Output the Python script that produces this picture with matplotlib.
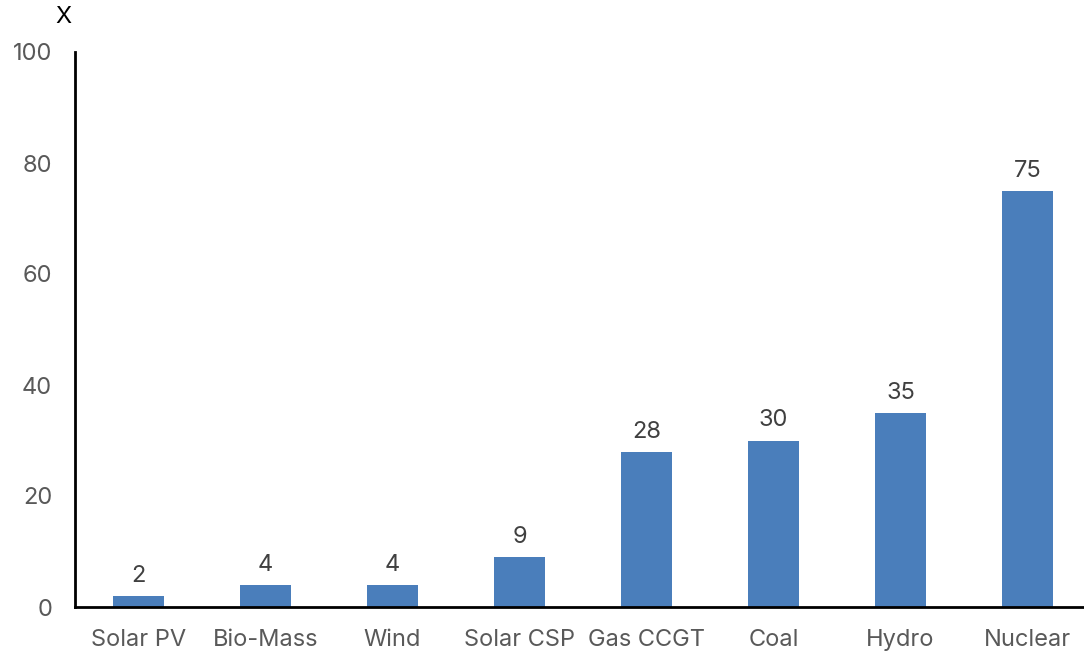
import matplotlib
matplotlib.use("Agg")
import matplotlib.pyplot as plt

categories = ["Solar PV", "Bio-Mass", "Wind", "Solar CSP", "Gas CCGT", "Coal", "Hydro", "Nuclear"]
values = [2, 4, 4, 9, 28, 30, 35, 75]
yticks = [0, 20, 40, 60, 80, 100]

plt.rcParams['font.family'] = ['Inter', 'DejaVu Sans']

W, H = 1084, 653
fig = plt.figure(figsize=(W / 100, H / 100), dpi=100)
ax = fig.add_axes([75 / W, 1 - 607 / H, (1084 - 75) / W, (607 - 52) / H])

x = list(range(len(categories)))
bars = ax.bar(x, values, width=0.4, color="#4a7ebb", zorder=2)
for xi, v in zip(x, values):
    ax.annotate(str(v), (xi, v), xytext=(0, 6.5), textcoords="offset points",
                ha="center", va="bottom", fontsize=17, color="#404040")

ax.set_xlim(-0.5, 7.445)
ax.set_ylim(0, 100)
ax.set_yticks(yticks)
ax.set_xticks(x)
ax.set_xticklabels(categories)
ax.tick_params(axis="both", length=0, labelsize=17, labelcolor="#595959")
ax.tick_params(axis="y", pad=16.5)
ax.tick_params(axis="x", pad=15.5)
for s in ["top", "right"]:
    ax.spines[s].set_visible(False)
ax.spines["left"].set_linewidth(2)
ax.spines["bottom"].set_linewidth(2)
ax.spines["left"].set_color("black")
ax.spines["bottom"].set_color("black")

fig.text(63 / W, 1 - 17 / H, "X", ha="center", va="center", fontsize=17, color="black")

fig.savefig("out.png", dpi=100)
